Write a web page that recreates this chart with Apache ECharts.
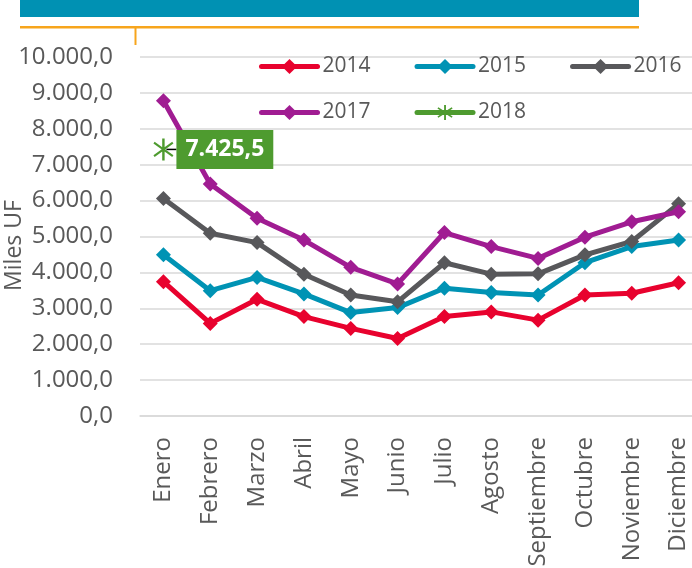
<!DOCTYPE html>
<html>
<head>
<meta charset="utf-8">
<script src="https://cdn.jsdelivr.net/npm/echarts@6/dist/echarts.min.js"></script>
<style>
  html, body { margin: 0; padding: 0; background: #fff; }
  #chart { width: 692px; height: 568px; }
</style>
</head>
<body>
<div id="chart"></div>
<script>
var meses = ['Enero', 'Febrero', 'Marzo', 'Abril', 'Mayo', 'Junio', 'Julio',
             'Agosto', 'Septiembre', 'Octubre', 'Noviembre', 'Diciembre'];

var v2014 = [3740, 2580, 3250, 2770, 2440, 2160, 2770, 2900, 2670, 3370, 3420, 3710];
var v2015 = [4490, 3490, 3860, 3400, 2880, 3020, 3560, 3440, 3370, 4270, 4720, 4900];
var v2016 = [6060, 5090, 4830, 3950, 3370, 3180, 4270, 3950, 3960, 4490, 4860, 5910];
var v2017 = [8780, 6460, 5510, 4900, 4140, 3680, 5110, 4720, 4390, 4980, 5410, 5690];
var v2018 = [7425.5];

var yTicks = { min: 0, max: 10000, interval: 1000 };

var textGray = '#595959';
var gridGray = '#d9d9d9';
var verde = '#4e9b2f';

function fmt(v) {
    var s = Number(v).toFixed(1).split('.');
    return s[0].replace(/\B(?=(\d{3})+(?!\d))/g, '.') + ',' + s[1];
}

// asterisco estilo Excel (vertical + X)
var star = 'path://M-1,-10 L1,-10 L1,10 L-1,10 Z ' +
           'M-8.2,-5.3 L-7.2,-7 L8.2,5.3 L7.2,7 Z ' +
           'M7.2,-7 L8.2,-5.3 L-7.2,7 L-8.2,5.3 Z';

function lineSerie(name, data, color) {
    return {
        name: name,
        type: 'line',
        data: data,
        symbol: 'diamond',
        symbolSize: 15,
        itemStyle: { color: color },
        lineStyle: { color: color, width: 5 },
        emphasis: { disabled: true }
    };
}

function legendBox(names, top) {
    return {
        data: names,
        left: 254, top: top, width: 440,
        itemWidth: 56, itemHeight: 19, itemGap: 44,
        lineStyle: { width: 5, cap: 'round' },
        textStyle: { color: textGray, fontSize: 21, fontFamily: 'Open Sans' }
    };
}

var chart = echarts.init(document.getElementById('chart'));

var options = {
    backgroundColor: '#fff',
    animation: false,
    textStyle: { fontFamily: 'Open Sans' },
    graphic: [
        { type: 'rect', shape: { x: 20, y: 0, width: 619, height: 17 }, style: { fill: '#0091b3' } },
        { type: 'rect', shape: { x: 20, y: 26, width: 619, height: 2.5 }, style: { fill: '#f7a51c' } },
        { type: 'rect', shape: { x: 134.5, y: 26, width: 2, height: 19 }, style: { fill: '#f7a51c' } }
    ],
    legend: [
        legendBox(['2014', '2015', '2016'], 51),
        legendBox(['2017', '2018'], 97)
    ],
    grid: { left: 140, top: 57, width: 562, height: 359, containLabel: false, outerBoundsMode: 'none' },
    xAxis: {
        type: 'category',
        data: meses,
        axisTick: { show: false },
        axisLine: { lineStyle: { color: gridGray, width: 1.5 } },
        axisLabel: { rotate: 90, fontSize: 24, color: textGray, margin: 21, fontFamily: 'Open Sans' }
    },
    yAxis: {
        type: 'value',
        min: yTicks.min, max: yTicks.max, interval: yTicks.interval,
        name: 'Miles UF',
        nameLocation: 'middle',
        nameGap: 114,
        nameMoveOverlap: false,
        nameTextStyle: { fontSize: 23, color: textGray, fontFamily: 'Open Sans', padding: [0, 18, 0, 0] },
        axisLine: { show: false },
        axisTick: { show: false },
        splitLine: { lineStyle: { color: gridGray, width: 1.5 } },
        axisLabel: { fontSize: 24, color: textGray, margin: 27, formatter: fmt, fontFamily: 'Open Sans' }
    },
    series: [
        lineSerie('2014', v2014, '#e8022e'),
        lineSerie('2015', v2015, '#0093b4'),
        lineSerie('2016', v2016, '#58585b'),
        lineSerie('2017', v2017, '#a01c92'),
        {
            name: '2018',
            type: 'line',
            data: v2018,
            symbol: star,
            symbolSize: [20, 22],
            itemStyle: { color: verde },
            lineStyle: { color: verde, width: 5 },
            emphasis: { disabled: true },
            label: {
                show: true,
                position: 'right',
                distance: -7,
                formatter: function (p) { return '{linea|}{caja|' + fmt(p.value) + '}'; },
                rich: {
                    linea: { width: 10, height: 1.5, backgroundColor: '#000', verticalAlign: 'middle' },
                    caja: {
                        backgroundColor: verde,
                        color: '#fff',
                        fontWeight: 'bold',
                        fontSize: 23,
                        lineHeight: 23,
                        fontFamily: 'Open Sans',
                        padding: [8, 9, 8, 9],
                        verticalAlign: 'middle'
                    }
                }
            }
        }
    ]
};

chart.setOption(options);
</script>
</body>
</html>
